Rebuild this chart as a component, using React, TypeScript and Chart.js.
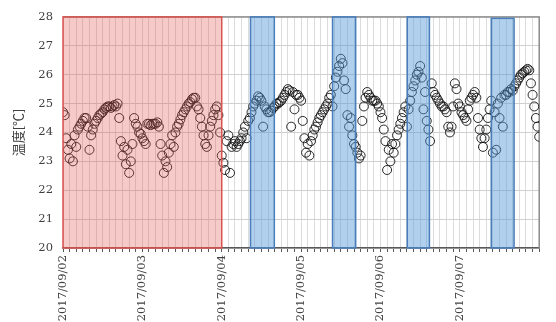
import { useEffect, useRef } from 'react';
import { Chart, registerables } from 'chart.js';
Chart.register(...registerables);

const dayLabels = ['2017/09/02', '2017/09/03', '2017/09/04', '2017/09/05', '2017/09/06', '2017/09/07'];
const sampleStepHours = 0.5;
// temperature readings every 30 min from 2017/09/02 00:00
const temps = [
  24.7, 24.6, 23.8, 23.4, 23.1, 23.6, 23.0, 23.9, 23.5, 24.1,
  24.2, 24.3, 24.4, 24.5, 24.5, 24.2, 23.4, 23.9, 24.1, 24.3,
  24.4, 24.5, 24.6, 24.65, 24.7, 24.8, 24.85, 24.9, 24.9, 24.85,
  24.9, 24.95, 24.9, 25.0, 24.5, 23.7, 23.2, 23.5, 22.9, 23.4,
  22.6, 23.0, 23.6, 24.5, 24.3, 24.2, 24.0, 23.95, 23.8, 23.7,
  23.6, 24.3, 24.3, 24.25, 24.3, 24.3, 24.3, 24.35, 24.2, 23.6,
  23.2, 22.6, 23.0, 22.8, 23.3, 23.6, 23.9, 23.5, 24.0, 24.2,
  24.3, 24.45, 24.6, 24.7, 24.8, 24.9, 25.0, 25.05, 25.15, 25.2,
  25.2, 24.9, 24.8, 24.5, 24.2, 23.9, 23.6, 23.5, 23.9, 24.2,
  24.4, 24.6, 24.8, 24.9, 24.6, 24.0, 23.2, 22.95, 22.7, 23.7,
  23.9, 22.6, 23.5, 23.6, 23.7, 23.5, 23.6, 23.7, 23.8, 24.0,
  24.2, 23.8, 24.4, 24.5, 24.7, 24.9, 25.0, 25.1, 25.25, 25.2,
  25.1, 24.2, 24.9, 24.8, 24.7, 24.7, 24.75, 24.85, 24.9, 25.0,
  25.0, 25.05, 25.1, 25.2, 25.3, 25.4, 25.5, 25.45, 24.2, 25.4,
  24.8, 25.3, 25.3, 25.2, 25.1, 24.4, 23.8, 23.3, 23.6, 23.2,
  23.7, 23.9, 24.1, 24.2, 24.35, 24.5, 24.6, 24.7, 24.8, 24.9,
  25.0, 25.2, 25.3, 24.9, 25.6, 25.9, 26.1, 26.3, 26.55, 26.4,
  25.8, 25.5, 24.6, 24.2, 24.5, 23.9, 23.6, 23.5, 23.3, 23.1,
  23.2, 24.4, 24.9, 25.2, 25.4, 25.3, 25.2, 25.1, 25.1, 25.1,
  25.0, 24.9, 24.7, 24.5, 24.1, 23.7, 22.7, 23.4, 23.0, 23.6,
  23.3, 23.6, 23.9, 24.1, 24.3, 24.5, 24.7, 24.9, 24.2, 24.8,
  25.1, 25.4, 25.6, 25.8, 26.0, 26.1, 26.3, 25.9, 24.8, 25.4,
  24.4, 24.1, 23.7, 25.7, 25.4, 25.3, 25.2, 25.1, 25.0, 24.9,
  24.9, 24.8, 24.7, 24.2, 24.0, 24.2, 24.9, 25.7, 25.5, 25.0,
  24.9, 24.7, 24.6, 24.5, 24.4, 24.8, 25.1, 25.2, 25.3, 25.4,
  25.2, 24.5, 24.1, 23.8, 23.5, 23.8, 24.1, 24.5, 24.8, 25.1,
  23.3, 24.7, 23.4, 25.0, 24.5, 25.2, 24.2, 25.3, 25.3, 25.4,
  25.4, 25.5, 25.45, 25.6, 25.7, 25.8, 25.9, 26.0, 26.05, 26.1,
  26.15, 26.2, 26.15, 25.7, 25.3, 24.9, 24.5, 24.2, 23.85,
];
const redBand = [0, 48, 28];
const blueBands = [
  [56.7, 63.9, 28],
  [81.5, 88.5, 28],
  [104.1, 110.8, 28],
  [129.5, 136.4, 27.95],
];
const yMin = 20;
const yMax = 28;
const xMax = 144;

const bandsPlugin = {
  id: 'bands',
  beforeDatasetsDraw(chart: any) {
    const { ctx, chartArea: a } = chart;
    ctx.save();
    ctx.strokeStyle = '#8c8c8c';
    ctx.lineWidth = 1.5;
    ctx.beginPath();
    ctx.moveTo(a.left, a.top);
    ctx.lineTo(a.right, a.top);
    ctx.lineTo(a.right, a.bottom);
    ctx.stroke();
    ctx.restore();
  },
  afterDatasetsDraw(chart: any) {
    const { ctx } = chart;
    const xs = chart.scales.x;
    const ys = chart.scales.y;
    const rect = (x0: number, x1: number, top: number, fill: string, stroke: string) => {
      const l = xs.getPixelForValue(x0);
      const r = xs.getPixelForValue(x1);
      const t = ys.getPixelForValue(top);
      const b = ys.getPixelForValue(yMin);
      ctx.fillStyle = fill;
      ctx.fillRect(l, t, r - l, b - t);
      ctx.strokeStyle = stroke;
      ctx.lineWidth = 1.5;
      ctx.strokeRect(l, t, r - l, b - t);
    };
    ctx.save();
    rect(redBand[0], redBand[1], redBand[2], 'rgba(230,80,80,0.3)', '#d9534f');
    blueBands.forEach((b) => rect(b[0], b[1], b[2], 'rgba(80,150,215,0.45)', '#4a7ebb'));
    ctx.restore();
  },
};

export default function App() {
  const ref = useRef<HTMLCanvasElement>(null);
  useEffect(() => {
    if (!ref.current) return;
    const points = temps.map((t, i) => ({ x: i * sampleStepHours, y: t }));
    const chart = new Chart(ref.current, {
      type: 'scatter',
      data: {
        datasets: [
          {
            data: points,
            showLine: false,
            pointStyle: 'circle',
            pointRadius: 4.5,
            pointBorderWidth: 1,
            pointBorderColor: 'rgba(20,20,20,0.9)',
            pointBackgroundColor: 'rgba(0,0,0,0)',
          },
        ],
      },
      options: {
        responsive: false,
        animation: false,
        layout: { padding: { top: 14, right: 5, left: 0, bottom: 0 } },
        plugins: { legend: { display: false }, tooltip: { enabled: false } },
        scales: {
          x: {
            type: 'linear',
            min: 0,
            max: xMax,
            afterFit: (s: any) => { s.height = 74; },
            ticks: {
              stepSize: 2,
              autoSkip: false,
              minRotation: 90,
              maxRotation: 90,
              padding: 3,
              color: '#404040',
              font: { family: 'DejaVu Serif', size: 11.5 },
              callback: (v: any) => {
                const n = Number(v);
                if (n % 24 === 0 && n / 24 < dayLabels.length) return dayLabels[n / 24];
                return '';
              },
            },
            grid: { color: '#dcdcdc', tickColor: '#595959', tickLength: 4, lineWidth: 1 },
            border: { color: '#595959', width: 1.5 },
          },
          y: {
            min: yMin,
            max: yMax,
            afterFit: (s: any) => { s.width = 63; },
            ticks: {
              stepSize: 1,
              padding: 10,
              color: '#404040',
              font: { family: 'DejaVu Serif', size: 11.5 },
            },
            grid: { color: '#d0d0d0', drawTicks: false },
            border: { display: false },
            title: {
              display: true,
              text: '温度[℃]',
              color: '#404040',
              padding: { top: 10, bottom: 0 },
              font: { family: 'Noto Sans CJK JP', size: 13 },
            },
          },
        },
      },
      plugins: [bandsPlugin],
    } as any);
    return () => chart.destroy();
  }, []);
  return (
    <canvas
      ref={ref}
      width={556}
      height={322}
      style={{ position: 'fixed', left: 0, top: 0, width: 556, height: 322 }}
    />
  );
}
